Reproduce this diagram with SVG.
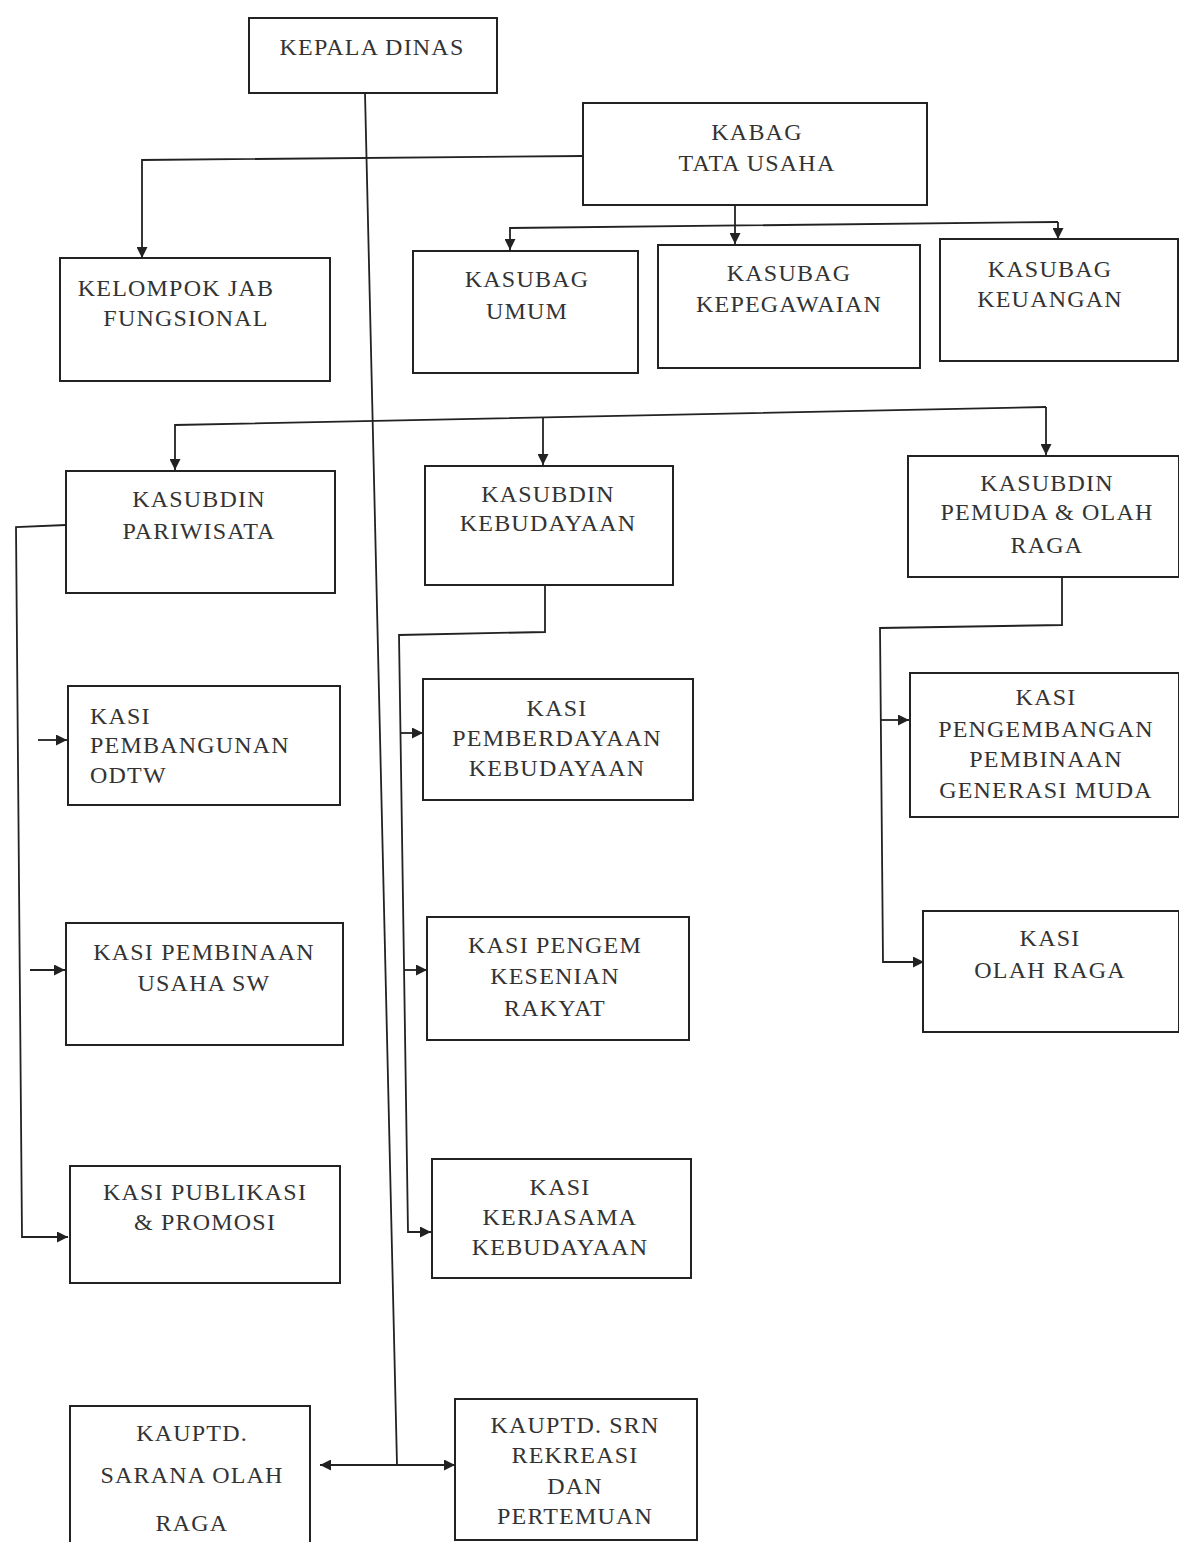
<svg xmlns="http://www.w3.org/2000/svg" width="1179" height="1542" viewBox="0 0 1179 1542">
<style>
.box{fill:#fff;stroke:#222;stroke-width:2}
.t{font-family:"Liberation Serif","Times New Roman",serif;font-size:24px;letter-spacing:1.2px;fill:#333;text-anchor:middle}
.tl{text-anchor:start}
.c{fill:none;stroke:#222;stroke-width:1.8}
</style>
<defs>
<marker id="ah" viewBox="0 0 10 10" refX="10" refY="5" markerWidth="11" markerHeight="11" orient="auto" markerUnits="userSpaceOnUse">
<path d="M0,0 L10,5 L0,10 z" fill="#222"/>
</marker>
</defs>
<rect width="1179" height="1542" fill="#fff"/>

<g id="connectors">
<path class="c" d="M365,93 L397,1465"/>
<path class="c" d="M397,1465 L320,1465" marker-end="url(#ah)"/>
<path class="c" d="M397,1465 L455,1465" marker-end="url(#ah)"/>
<path class="c" d="M583,156 L142,160 L142,258" marker-end="url(#ah)"/>
<path class="c" d="M735,205 L735,244" marker-end="url(#ah)"/>
<path class="c" d="M1058,222 L510,228 L510,250" marker-end="url(#ah)"/>
<path class="c" d="M1058,222 L1058,239" marker-end="url(#ah)"/>
<path class="c" d="M1046,407 L175,425 L175,470" marker-end="url(#ah)"/>
<path class="c" d="M1046,407 L1046,455" marker-end="url(#ah)"/>
<path class="c" d="M543,418 L543,465" marker-end="url(#ah)"/>
<path class="c" d="M66,525 L16,527 L22,1237 L68,1237" marker-end="url(#ah)"/>
<path class="c" d="M38,740 L67,740" marker-end="url(#ah)"/>
<path class="c" d="M30,970 L65,970" marker-end="url(#ah)"/>
<path class="c" d="M545,585 L545,632 L399,635 L408,1232 L431,1232" marker-end="url(#ah)"/>
<path class="c" d="M401,733 L423,733" marker-end="url(#ah)"/>
<path class="c" d="M404,970 L427,970" marker-end="url(#ah)"/>
<path class="c" d="M1062,577 L1062,625 L880,628 L883,962 L924,962" marker-end="url(#ah)"/>
<path class="c" d="M881,720 L909,720" marker-end="url(#ah)"/>
</g>

<g id="kepala-dinas">
<rect class="box" x="249" y="18" width="248" height="75"/>
<text class="t" x="372" y="55">KEPALA DINAS</text>
</g>
<g id="kabag-tata-usaha">
<rect class="box" x="583" y="103" width="344" height="102"/>
<text class="t" x="757" y="140">KABAG</text>
<text class="t" x="757" y="171">TATA USAHA</text>
</g>
<g id="kelompok-jab">
<rect class="box" x="60" y="258" width="270" height="123"/>
<text class="t" x="176" y="296">KELOMPOK JAB</text>
<text class="t" x="186" y="326">FUNGSIONAL</text>
</g>
<g id="kasubag-umum">
<rect class="box" x="413" y="251" width="225" height="122"/>
<text class="t" x="527" y="287">KASUBAG</text>
<text class="t" x="527" y="319">UMUM</text>
</g>
<g id="kasubag-kepegawaian">
<rect class="box" x="658" y="245" width="262" height="123"/>
<text class="t" x="789" y="281">KASUBAG</text>
<text class="t" x="789" y="312">KEPEGAWAIAN</text>
</g>
<g id="kasubag-keuangan">
<rect class="box" x="940" y="239" width="238" height="122"/>
<text class="t" x="1050" y="277">KASUBAG</text>
<text class="t" x="1050" y="307">KEUANGAN</text>
</g>
<g id="kasubdin-pariwisata">
<rect class="box" x="66" y="471" width="269" height="122"/>
<text class="t" x="199" y="507">KASUBDIN</text>
<text class="t" x="199" y="539">PARIWISATA</text>
</g>
<g id="kasubdin-kebudayaan">
<rect class="box" x="425" y="466" width="248" height="119"/>
<text class="t" x="548" y="502">KASUBDIN</text>
<text class="t" x="548" y="531">KEBUDAYAAN</text>
</g>
<g id="kasubdin-pemuda">
<rect class="box" x="908" y="456" width="271" height="121"/>
<text class="t" x="1047" y="491">KASUBDIN</text>
<text class="t" x="1047" y="520">PEMUDA &amp; OLAH</text>
<text class="t" x="1047" y="553">RAGA</text>
</g>
<g id="kasi-pembangunan">
<rect class="box" x="68" y="686" width="272" height="119"/>
<text class="t tl" x="90" y="724">KASI</text>
<text class="t tl" x="90" y="753">PEMBANGUNAN</text>
<text class="t tl" x="90" y="783">ODTW</text>
</g>
<g id="kasi-pembinaan">
<rect class="box" x="66" y="923" width="277" height="122"/>
<text class="t" x="204" y="960">KASI PEMBINAAN</text>
<text class="t" x="204" y="991">USAHA SW</text>
</g>
<g id="kasi-publikasi">
<rect class="box" x="70" y="1166" width="270" height="117"/>
<text class="t" x="205" y="1200">KASI PUBLIKASI</text>
<text class="t" x="205" y="1230">&amp; PROMOSI</text>
</g>
<g id="kasi-pemberdayaan">
<rect class="box" x="423" y="679" width="270" height="121"/>
<text class="t" x="557" y="716">KASI</text>
<text class="t" x="557" y="746">PEMBERDAYAAN</text>
<text class="t" x="557" y="776">KEBUDAYAAN</text>
</g>
<g id="kasi-pengem-kesenian">
<rect class="box" x="427" y="917" width="262" height="123"/>
<text class="t" x="555" y="953">KASI PENGEM</text>
<text class="t" x="555" y="984">KESENIAN</text>
<text class="t" x="555" y="1016">RAKYAT</text>
</g>
<g id="kasi-kerjasama">
<rect class="box" x="432" y="1159" width="259" height="119"/>
<text class="t" x="560" y="1195">KASI</text>
<text class="t" x="560" y="1225">KERJASAMA</text>
<text class="t" x="560" y="1255">KEBUDAYAAN</text>
</g>
<g id="kasi-pengembangan">
<rect class="box" x="910" y="673" width="269" height="144"/>
<text class="t" x="1046" y="705">KASI</text>
<text class="t" x="1046" y="737">PENGEMBANGAN</text>
<text class="t" x="1046" y="767">PEMBINAAN</text>
<text class="t" x="1046" y="798">GENERASI MUDA</text>
</g>
<g id="kasi-olah-raga">
<rect class="box" x="923" y="911" width="256" height="121"/>
<text class="t" x="1050" y="946">KASI</text>
<text class="t" x="1050" y="978">OLAH RAGA</text>
</g>
<g id="kauptd-sarana">
<rect class="box" x="70" y="1406" width="240" height="140"/>
<text class="t" x="192" y="1441">KAUPTD.</text>
<text class="t" x="192" y="1483">SARANA OLAH</text>
<text class="t" x="192" y="1531">RAGA</text>
</g>
<g id="kauptd-srn">
<rect class="box" x="455" y="1399" width="242" height="141"/>
<text class="t" x="575" y="1433">KAUPTD. SRN</text>
<text class="t" x="575" y="1463">REKREASI</text>
<text class="t" x="575" y="1494">DAN</text>
<text class="t" x="575" y="1524">PERTEMUAN</text>
</g>
</svg>
